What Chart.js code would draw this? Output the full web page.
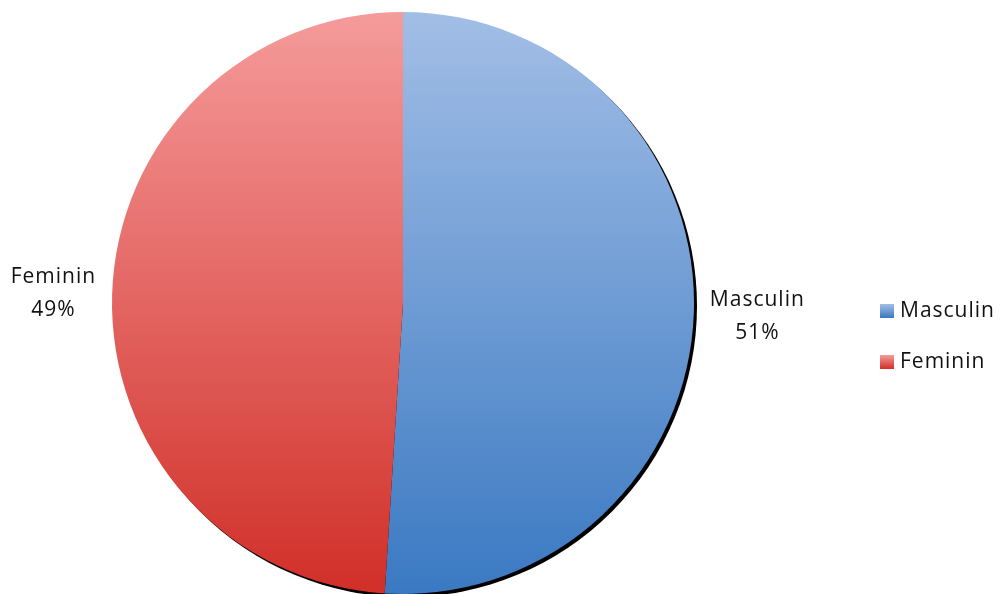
<!DOCTYPE html>
<html>
<head>
<meta charset="utf-8">
<script src="https://cdn.jsdelivr.net/npm/chart.js@4"></script>
<style>
  html, body { margin: 0; padding: 0; background: #ffffff; }
  #wrap { width: 1005px; height: 594px; position: relative; }
</style>
</head>
<body>
<div id="wrap"><canvas id="c" width="1005" height="594"></canvas></div>
<script>
const categories = ["Masculin", "Feminin"];
const values = [51, 49];
const percentLabels = ["51%", "49%"];
const gradientTop = ["#a2bee6", "#f59b9b"];
const gradientBottom = ["#3a79c2", "#d12f28"];

const FONT = '21px "Open Sans", Lato, sans-serif';
const SPACING = '1px';

function makeGradient(chart, i) {
  const meta = chart.getDatasetMeta(0);
  const arc = meta.data[0];
  const ctx = chart.ctx;
  let y0 = chart.chartArea ? chart.chartArea.top : 0;
  let y1 = chart.chartArea ? chart.chartArea.bottom : 594;
  if (arc && arc.outerRadius) { y0 = arc.y - arc.outerRadius; y1 = arc.y + arc.outerRadius; }
  const g = ctx.createLinearGradient(0, y0, 0, y1);
  g.addColorStop(0, gradientTop[i]);
  g.addColorStop(1, gradientBottom[i]);
  return g;
}

const shadowPlugin = {
  id: 'shadow',
  beforeDatasetsDraw(chart) {
    const arc = chart.getDatasetMeta(0).data[0];
    if (!arc) return;
    const ctx = chart.ctx;
    ctx.save();
    ctx.fillStyle = '#000000';
    ctx.beginPath();
    ctx.arc(arc.x + 3, arc.y + 3, arc.outerRadius, 0, Math.PI * 2);
    ctx.fill();
    ctx.restore();
  }
};

const labelPlugin = {
  id: 'outLabels',
  afterDatasetsDraw(chart) {
    const meta = chart.getDatasetMeta(0);
    const ctx = chart.ctx;
    ctx.save();
    ctx.font = FONT;
    ctx.letterSpacing = SPACING;
    ctx.fillStyle = '#111111';
    ctx.textAlign = 'center';
    ctx.textBaseline = 'middle';
    meta.data.forEach((arc, i) => {
      const mid = (arc.startAngle + arc.endAngle) / 2;
      const r = arc.outerRadius + 16;
      const ax = arc.x + Math.cos(mid) * r;
      const ay = arc.y + Math.sin(mid) * r + (Math.cos(mid) >= 0 ? 4 : 0);
      const lines = [categories[i], percentLabels[i]];
      const w = Math.max(...lines.map(l => ctx.measureText(l).width));
      const cx = ax + (Math.cos(mid) >= 0 ? w / 2 : -w / 2);
      const lh = 33;
      lines.forEach((l, k) => {
        ctx.fillText(l, cx, ay + (k - (lines.length - 1) / 2) * lh);
      });
    });
    ctx.restore();
  }
};

const legendPlugin = {
  id: 'sideLegend',
  afterDraw(chart) {
    const ctx = chart.ctx;
    ctx.save();
    ctx.font = FONT;
    ctx.letterSpacing = SPACING;
    ctx.textBaseline = 'middle';
    const x = 880, y0 = 311, step = 51, box = 14;
    categories.forEach((c, i) => {
      const y = y0 + i * step;
      const g = ctx.createLinearGradient(0, y - box / 2, 0, y + box / 2);
      g.addColorStop(0, gradientTop[i]);
      g.addColorStop(1, gradientBottom[i]);
      ctx.fillStyle = g;
      ctx.fillRect(x, y - box / 2, box, box);
      ctx.fillStyle = '#111111';
      ctx.textAlign = 'left';
      ctx.fillText(c, x + 20, y);
    });
    ctx.restore();
  }
};

new Chart(document.getElementById('c'), {
  type: 'pie',
  data: {
    labels: categories,
    datasets: [{
      data: values,
      backgroundColor: (ctx) => makeGradient(ctx.chart, ctx.dataIndex),
      borderWidth: 0
    }]
  },
  options: {
    responsive: false,
    animation: false,
    layout: { padding: { top: 12, bottom: 0, left: 112, right: 311 } },
    plugins: {
      legend: { display: false },
      tooltip: { enabled: false }
    }
  },
  plugins: [shadowPlugin, labelPlugin, legendPlugin]
});
</script>
</body>
</html>
